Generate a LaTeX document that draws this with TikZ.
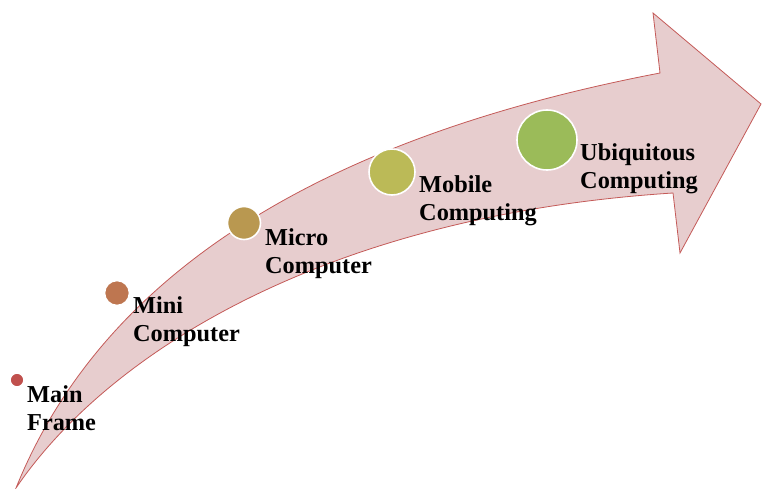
\documentclass[tikz,border=0pt]{standalone}
\usepackage{fontspec}
\setmainfont{Liberation Serif}
\definecolor{arrowfill}{RGB}{231,205,206}
\definecolor{arrowline}{RGB}{196,90,88}
\definecolor{cA}{RGB}{192,80,77}
\definecolor{cB}{RGB}{190,118,80}
\definecolor{cC}{RGB}{185,152,80}
\definecolor{cD}{RGB}{187,186,87}
\definecolor{cE}{RGB}{155,187,89}
\begin{document}
\begin{tikzpicture}[x=1pt,y=-1pt,
  dot/.style={circle,draw=white,line width=1.6pt,inner sep=0pt},
  lbl/.style={anchor=base west,align=left,inner sep=0pt,
    font=\fontsize{24.3}{28}\selectfont\bfseries}]
\useasboundingbox (0,0) rectangle (762,489);
\coordinate (tail) at (16,488);
\coordinate (ua) at (660,73);
\coordinate (ub) at (653,13);
\coordinate (tip) at (761,104);
\coordinate (la) at (680,253);
\coordinate (lb) at (673,193);
\draw[arrowline, fill=arrowfill, line width=0.8pt]
  (tail) .. controls (100,280) and (310,140) .. (ua) -- (ub) -- (tip)
  -- (la) -- (lb) .. controls (330,215) and (110,350) .. (tail) -- cycle;
\node[dot,fill=cA,minimum size=14pt] (d1) at (17,380) {};
\node[dot,fill=cB,minimum size=25pt] (d2) at (117,293) {};
\node[dot,fill=cC,minimum size=33pt] (d3) at (244,223) {};
\node[dot,fill=cD,minimum size=46pt] (d4) at (392,172) {};
\node[dot,fill=cE,minimum size=60pt] (d5) at (547,140) {};
\node[lbl] (t1) at (27,430) {Main\\Frame};
\node[lbl] (t2) at (133,341) {Mini\\Computer};
\node[lbl] (t3) at (265,273) {Micro\\Computer};
\node[lbl] (t4) at (419,220) {Mobile\\Computing};
\node[lbl] (t5) at (580,188) {Ubiquitous\\Computing};
\end{tikzpicture}
\end{document}
